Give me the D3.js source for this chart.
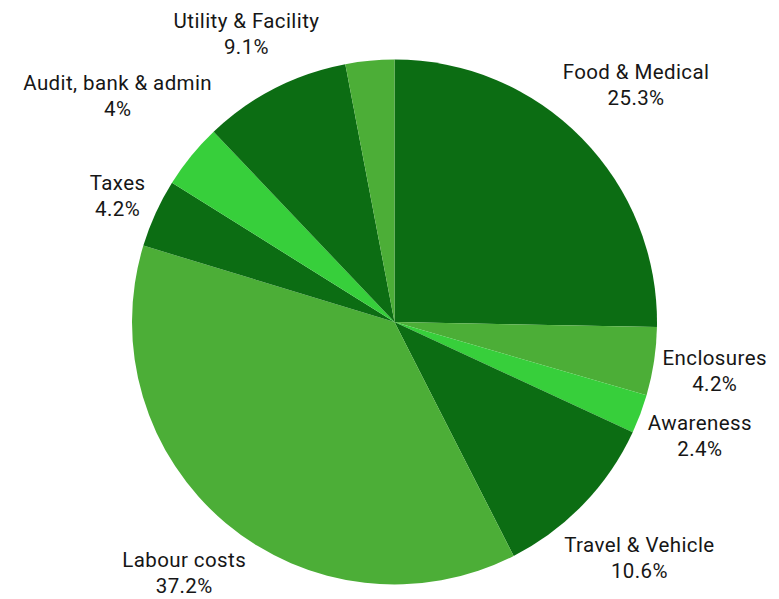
<!DOCTYPE html>
<html>
<head>
  <meta charset="utf-8">
  <title>Cost breakdown</title>
  <script src="https://d3js.org/d3.v7.min.js"></script>
  <style>
    body { margin: 0; background: #fff; }
    text { font-family: Roboto, "Noto Sans", sans-serif; fill: #161616; letter-spacing: 0.4px; }
  </style>
</head>
<body>
  <svg id="chart"></svg>
  <script>
    // slices clockwise from 12 o'clock
    const categories = ["Food & Medical", "Enclosures", "Awareness", "Travel & Vehicle",
                        "Labour costs", "Taxes", "Audit, bank & admin", "Utility & Facility", ""];
    const values = [25.3, 4.2, 2.4, 10.6, 37.2, 4.2, 4.0, 9.1, 3.0];
    const valueLabels = ["25.3%", "4.2%", "2.4%", "10.6%", "37.2%", "4.2%", "4%", "9.1%", ""];
    const shades = ["dark", "mid", "light", "dark", "mid", "dark", "light", "dark", "mid"];

    const width = 779, height = 599;
    const cx = 394.5, cy = 322, radius = 262.5;

    const svg = d3.select("#chart")
      .attr("width", width)
      .attr("height", height);

    const g = svg.append("g")
      .attr("transform", "translate(" + cx + "," + cy + ")");

    const color = d3.scaleOrdinal()
      .domain(["dark", "mid", "light"])
      .range(["#0c6d13", "#4cae37", "#37cf3b"]);

    const data = categories.map(function(c, i) {
      return {name: c, value: values[i], label: valueLabels[i], shade: shades[i]};
    });

    const pie = d3.pie().sort(null).value(function(d) { return d.value; });
    const arc = d3.arc().innerRadius(0).outerRadius(radius);
    const arcs = pie(data);

    g.selectAll("path")
      .data(arcs)
      .enter()
      .append("path")
      .attr("d", arc)
      .attr("fill", function(d) { return color(d.data.shade); });

    // label centre goes out along the mid-angle, far enough that the box clears the rim
    const gap = 6;
    const labels = g.selectAll(".lbl")
      .data(arcs.filter(function(d) { return d.data.name !== ""; }))
      .enter()
      .append("text")
      .attr("class", "lbl")
      .attr("text-anchor", "middle")
      .style("font-size", "20.5px");

    labels.append("tspan")
      .attr("x", 0)
      .attr("dy", "-0.2em")
      .text(function(d) { return d.data.name; });
    labels.append("tspan")
      .attr("x", 0)
      .attr("dy", "1.27em")
      .text(function(d) { return d.data.label; });

    labels.each(function(d) {
      const box = this.getBBox();
      const a = (d.startAngle + d.endAngle) / 2;
      const dx = Math.sin(a), dy = -Math.cos(a);
      const dist = radius + gap + Math.abs(dx) * box.width / 2 + Math.abs(dy) * box.height / 2;
      const bx = box.x + box.width / 2, by = box.y + box.height / 2;
      d3.select(this).attr("transform", "translate(" + (dist * dx - bx) + "," + (dist * dy - by) + ")");
    });
  </script>
</body>
</html>
